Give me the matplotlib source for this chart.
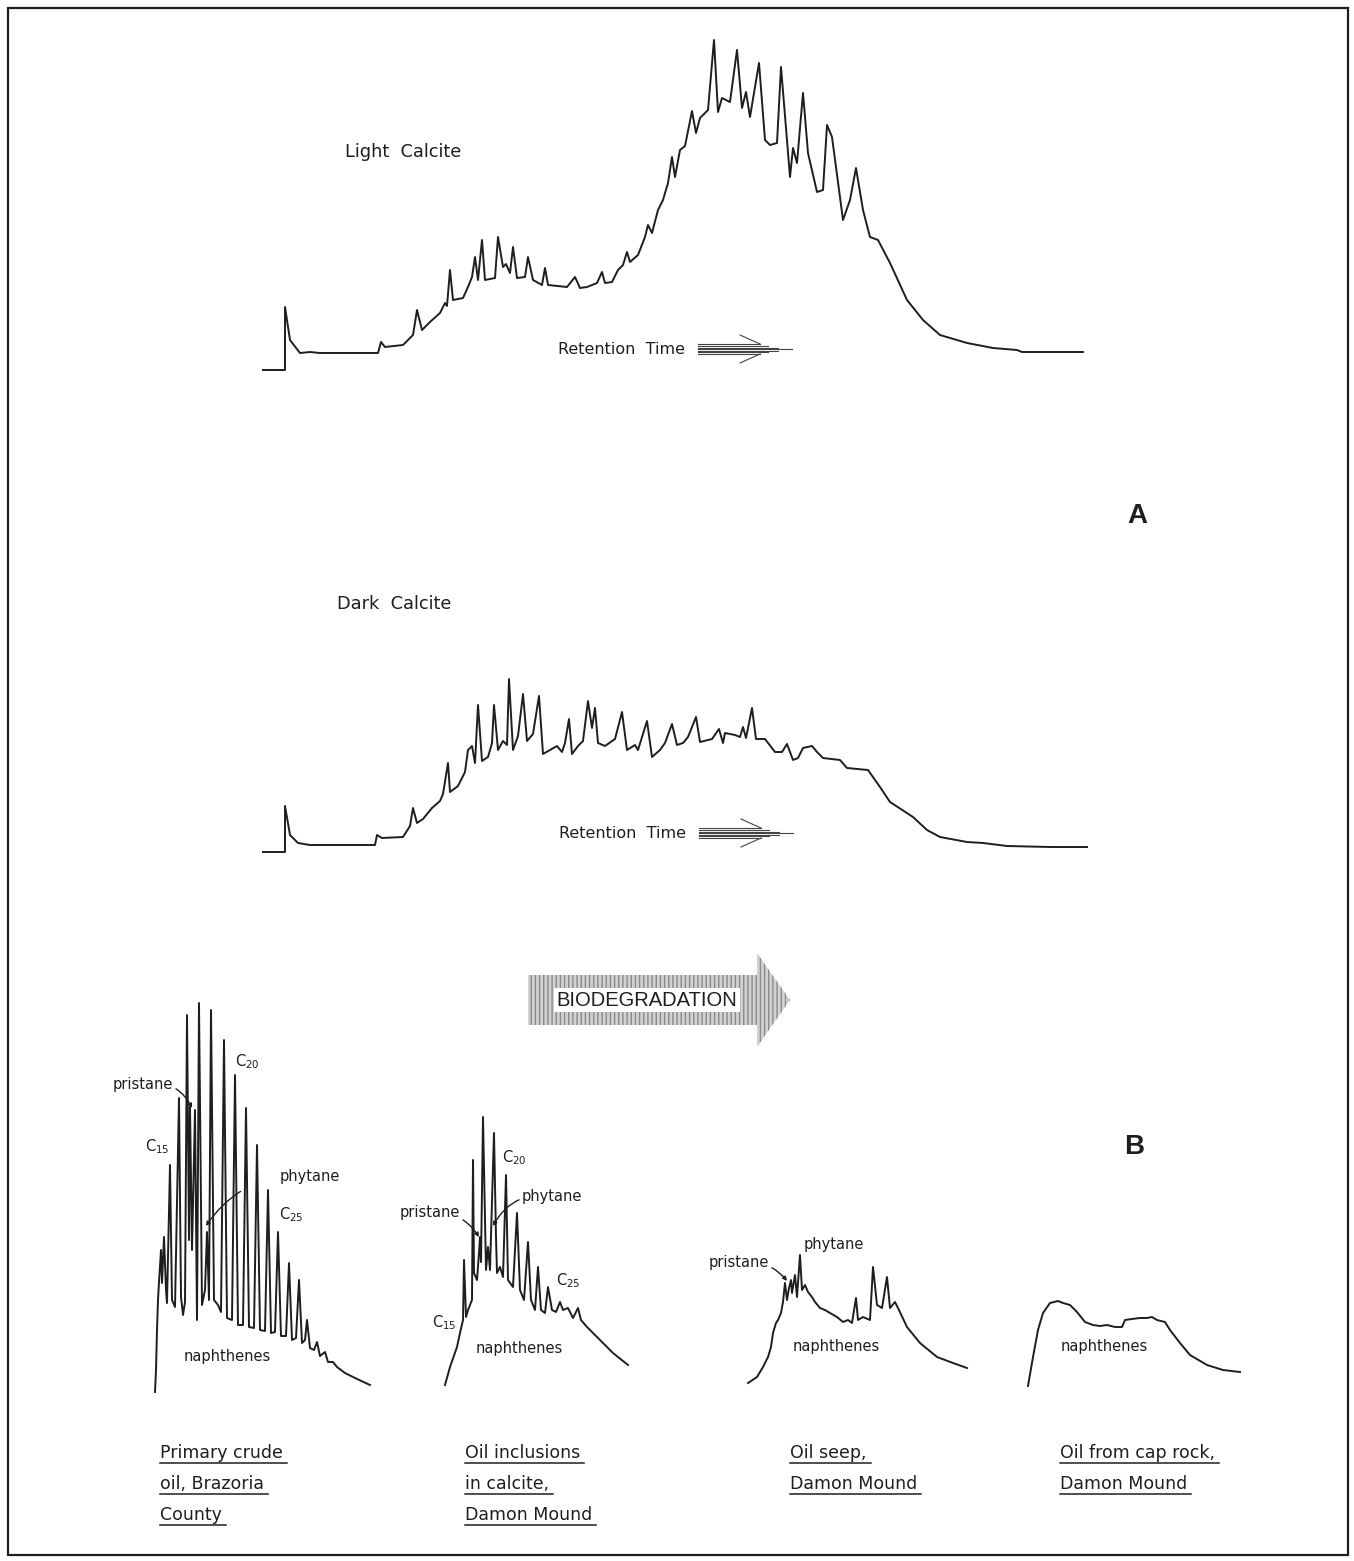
import numpy as np
import matplotlib.pyplot as plt
from matplotlib.patches import Polygon, Rectangle

W, H = 1354, 1561

# chromatogram traces: retention (arbitrary units) vs detector response
light_t = [1, 23, 23, 28, 38, 48, 58, 116, 119, 123, 141, 151, 155, 160, 168, 178, 183, 185, 188, 191,
           201, 206, 210, 213, 216, 220, 223, 233, 236, 241, 244, 248, 251, 255, 263, 266, 271, 280, 283, 286,
           305, 313, 318, 325, 335, 340, 343, 350, 356, 361, 365, 368, 376, 383, 386, 390, 396, 401, 406, 410,
           413, 418, 423, 430, 434, 438, 446, 452, 456, 460, 468, 475, 480, 484, 488, 497, 503, 508, 515, 519,
           528, 531, 535, 541, 546, 555, 561, 565, 570, 581, 588, 594, 601, 608, 616, 628, 645, 661, 678, 705,
           731, 755, 760, 821]
light_r = [2, 2, 65, 32, 19, 20, 19, 19, 30, 25, 27, 37, 62, 42, 50, 59, 69, 66, 102, 72,
           74, 85, 95, 115, 92, 132, 92, 94, 135, 105, 108, 99, 125, 94, 95, 115, 92, 87, 104, 87,
           85, 95, 84, 85, 89, 100, 89, 90, 102, 107, 120, 110, 117, 135, 147, 139, 162, 172, 189, 215,
           195, 222, 226, 261, 239, 254, 262, 332, 260, 274, 270, 322, 264, 280, 255, 309, 232, 227, 229, 305,
           195, 224, 209, 279, 219, 180, 182, 247, 235, 152, 172, 204, 162, 135, 132, 109, 72, 52, 37, 29,
           24, 22, 20, 20]

dark_t = [1, 23, 23, 28, 36, 48, 113, 115, 120, 141, 148, 151, 155, 161, 170, 178, 181, 186, 188, 196,
          203, 206, 210, 213, 216, 220, 226, 230, 232, 236, 241, 245, 247, 251, 256, 261, 265, 271, 277, 281,
          288, 295, 300, 303, 307, 310, 316, 321, 326, 330, 333, 336, 343, 353, 360, 365, 373, 376, 385, 390,
          398, 403, 410, 415, 421, 426, 434, 438, 450, 457, 461, 463, 473, 478, 481, 484, 490, 494, 503, 513,
          520, 525, 531, 536, 541, 550, 555, 561, 578, 585, 606, 618, 628, 651, 665, 678, 705, 721, 745, 788,
          825]
dark_r = [0, 0, 46, 17, 9, 7, 7, 17, 14, 15, 26, 44, 29, 33, 44, 51, 58, 89, 60, 66,
          80, 102, 106, 89, 147, 91, 95, 109, 147, 102, 111, 107, 173, 102, 116, 158, 111, 118, 156, 98,
          102, 106, 100, 109, 133, 98, 106, 111, 151, 124, 144, 109, 106, 113, 140, 102, 107, 102, 131, 95,
          102, 109, 128, 107, 109, 115, 135, 110, 113, 123, 109, 119, 117, 115, 125, 114, 144, 113, 113, 100,
          100, 108, 92, 94, 104, 106, 100, 94, 92, 84, 82, 65, 50, 35, 22, 15, 10, 9, 6, 5,
          5]

crude_t = [5, 6, 7, 8, 9, 11, 12, 14, 16, 17, 20, 22, 25, 29, 31, 33, 35, 37, 39, 40,
           42, 45, 47, 49, 52, 55, 57, 59, 61, 64, 68, 71, 74, 77, 82, 85, 88, 93, 96, 99,
           104, 107, 110, 115, 118, 121, 125, 128, 131, 136, 139, 142, 146, 149, 152, 155, 157, 160, 164, 167,
           170, 175, 178, 183, 187, 195, 205, 220]
crude_r = [3, 25, 65, 95, 113, 145, 112, 158, 105, 92, 230, 95, 88, 297, 98, 80, 93, 380, 155, 288,
           145, 285, 75, 392, 90, 105, 163, 95, 385, 95, 90, 83, 355, 77, 75, 320, 70, 70, 287, 68,
           67, 250, 65, 64, 205, 62, 63, 163, 59, 59, 132, 55, 57, 115, 52, 55, 75, 47, 45, 53,
           39, 43, 33, 33, 28, 22, 17, 10]

incl_t = [5, 10, 17, 20, 23, 24, 26, 28, 32, 33, 34, 37, 39, 40, 41, 43, 46, 48, 50, 54,
          56, 57, 60, 63, 66, 68, 73, 77, 80, 84, 88, 91, 95, 98, 101, 105, 108, 112, 116, 120,
          123, 128, 133, 138, 141, 147, 157, 173, 188]
incl_r = [5, 23, 43, 57, 70, 130, 73, 80, 90, 230, 117, 110, 137, 153, 128, 273, 120, 143, 120, 257,
          153, 117, 123, 113, 215, 110, 103, 177, 100, 90, 148, 90, 80, 123, 80, 77, 103, 80, 78, 88,
          80, 82, 72, 82, 70, 63, 53, 37, 25]

seep_t = [3, 12, 18, 23, 26, 28, 31, 33, 36, 38, 40, 42, 44, 46, 47, 50, 52, 55, 57, 60,
          63, 67, 70, 75, 80, 85, 92, 98, 103, 107, 111, 113, 118, 125, 128, 132, 137, 142, 145, 150,
          153, 162, 175, 192, 208, 222]
seep_r = [7, 13, 23, 33, 43, 57, 67, 70, 77, 88, 107, 90, 102, 110, 97, 115, 93, 135, 100, 105,
          98, 93, 88, 82, 80, 77, 73, 68, 70, 67, 92, 70, 73, 70, 123, 85, 82, 113, 82, 88,
          82, 63, 47, 33, 27, 22]

cap_t = [3, 8, 13, 18, 25, 33, 38, 45, 52, 60, 68, 75, 82, 90, 97, 100, 107, 115, 122, 127,
         132, 140, 145, 155, 165, 182, 198, 215]
cap_r = [4, 33, 60, 77, 87, 89, 87, 85, 78, 68, 65, 64, 65, 63, 63, 70, 71, 72, 72, 73,
         70, 68, 60, 47, 35, 25, 20, 18]

captions = [["Primary crude", "oil, Brazoria", "County"],
            ["Oil inclusions", "in calcite,", "Damon Mound"],
            ["Oil seep,", "Damon Mound"],
            ["Oil from cap rock,", "Damon Mound"]]

ink = '#1e1e1e'
fig = plt.figure(figsize=(W / 100, H / 100), dpi=100)
fig.set_facecolor('white')

ov = fig.add_axes([0, 0, 1, 1])
ov.set_xlim(0, W)
ov.set_ylim(H, 0)
ov.axis('off')


def trace(x0, ybase, w, h, t, r):
    ax = fig.add_axes([x0 / W, 1 - ybase / H, w / W, h / H])
    ax.set_xlim(0, w)
    ax.set_ylim(0, h)
    ax.axis('off')
    ax.plot(t, r, color=ink, lw=1.4, clip_on=False, solid_joinstyle='round')
    return ax


trace(262, 372, 830, 345, light_t, light_r)
trace(262, 852, 830, 200, dark_t, dark_r)
trace(150, 1395, 230, 400, crude_t, crude_r)
trace(440, 1390, 200, 290, incl_t, incl_r)
trace(745, 1390, 230, 150, seep_t, seep_r)
trace(1025, 1390, 220, 110, cap_t, cap_r)

ov.add_patch(Rectangle((8, 8), 1340, 1547, fill=False, lw=1.6, ec=ink))

lab = dict(family='DejaVu Sans', color=ink)
ov.text(345, 152, 'Light  Calcite', fontsize=12.8, va='center', **lab)
ov.text(337, 604, 'Dark  Calcite', fontsize=12.8, va='center', **lab)


def retention(x, y):
    ov.text(x, y, 'Retention  Time', fontsize=11.5, va='center', **lab)
    xa = x + 140
    for dy, L in [(-5, 62), (-3, 70), (-1.5, 80), (0, 94), (1.5, 80), (3, 70), (5, 62)]:
        ov.plot([xa, xa + L], [y + dy, y + dy], color='#444', lw=0.8)
    ov.plot([xa + 42, xa + 62], [y - 14, y - 5], color='#444', lw=0.8)
    ov.plot([xa + 42, xa + 62], [y + 14, y + 5], color='#444', lw=0.8)


retention(558, 349)
retention(559, 833)

ov.text(1137, 516, 'A', fontsize=20, fontweight='bold', family='Liberation Sans',
        ha='center', va='center', color=ink)
ov.text(1134, 1147, 'B', fontsize=20, fontweight='bold', family='Liberation Sans',
        ha='center', va='center', color=ink)

# biodegradation arrow
arrow = Polygon([(528, 975), (757, 975), (757, 953), (790, 1000), (757, 1047), (757, 1025), (528, 1025)],
                closed=True, fc='#d2d2d2', ec='#8a8a8a', lw=0.0, hatch='||||')
ov.add_patch(arrow)
ov.text(647, 1000, 'BIODEGRADATION', fontsize=14.5, family='Liberation Sans', ha='center', va='center',
        color=ink, bbox=dict(fc='white', ec='none', pad=2))

small = dict(family='DejaVu Sans', color=ink, fontsize=10.5)
lead = dict(arrowstyle='-|>', color=ink, lw=1.0, mutation_scale=6)

# primary crude labels
ov.annotate('pristane', xy=(192, 1108), xytext=(143, 1085), ha='center', va='center', **small,
            arrowprops=dict(connectionstyle='arc3,rad=-0.4', shrinkA=0, shrinkB=0, **lead))
ov.annotate('phytane', xy=(206, 1226), xytext=(310, 1177), ha='center', va='center', **small,
            arrowprops=dict(connectionstyle='arc3,rad=0.3', shrinkA=28, shrinkB=0, **lead))
ov.text(157, 1147, 'C$_{15}$', ha='center', va='center', **small)
ov.text(247, 1062, 'C$_{20}$', ha='center', va='center', **small)
ov.text(291, 1215, 'C$_{25}$', ha='center', va='center', **small)
ov.text(227, 1357, 'naphthenes', ha='center', va='center', **small)

# inclusion labels
ov.annotate('pristane', xy=(479, 1237), xytext=(430, 1212), ha='center', va='center', **small,
            arrowprops=dict(connectionstyle='arc3,rad=-0.3', shrinkA=28, shrinkB=0, **lead))
ov.annotate('phytane', xy=(493, 1226), xytext=(552, 1196), ha='center', va='center', **small,
            arrowprops=dict(connectionstyle='arc3,rad=0.35', shrinkA=28, shrinkB=0, **lead))
ov.text(514, 1158, 'C$_{20}$', ha='center', va='center', **small)
ov.text(568, 1281, 'C$_{25}$', ha='center', va='center', **small)
ov.text(444, 1323, 'C$_{15}$', ha='center', va='center', **small)
ov.text(519, 1349, 'naphthenes', ha='center', va='center', **small)

# seep labels
ov.annotate('pristane', xy=(787, 1281), xytext=(739, 1263), ha='center', va='center', **small,
            arrowprops=dict(connectionstyle='arc3,rad=-0.3', shrinkA=28, shrinkB=0, **lead))
ov.text(834, 1245, 'phytane', ha='center', va='center', **small)
ov.text(836, 1347, 'naphthenes', ha='center', va='center', **small)

ov.text(1104, 1347, 'naphthenes', ha='center', va='center', **small)

# underlined captions
cap_x = [160, 465, 790, 1060]
texts = []
for cx, lines in zip(cap_x, captions):
    for i, s in enumerate(lines):
        texts.append(ov.text(cx, 1453 + 31 * i, s, fontsize=12.5, va='center', **lab))

fig.canvas.draw()
inv = ov.transData.inverted()
for tx in texts:
    bb = tx.get_window_extent()
    (xa, ya), (xb, yb) = inv.transform([(bb.x0, bb.y0), (bb.x1, bb.y1)])
    ov.plot([xa, xb + 4], [ya + 1, ya + 1], color=ink, lw=1.1)

plt.savefig('out.png', dpi=100)
